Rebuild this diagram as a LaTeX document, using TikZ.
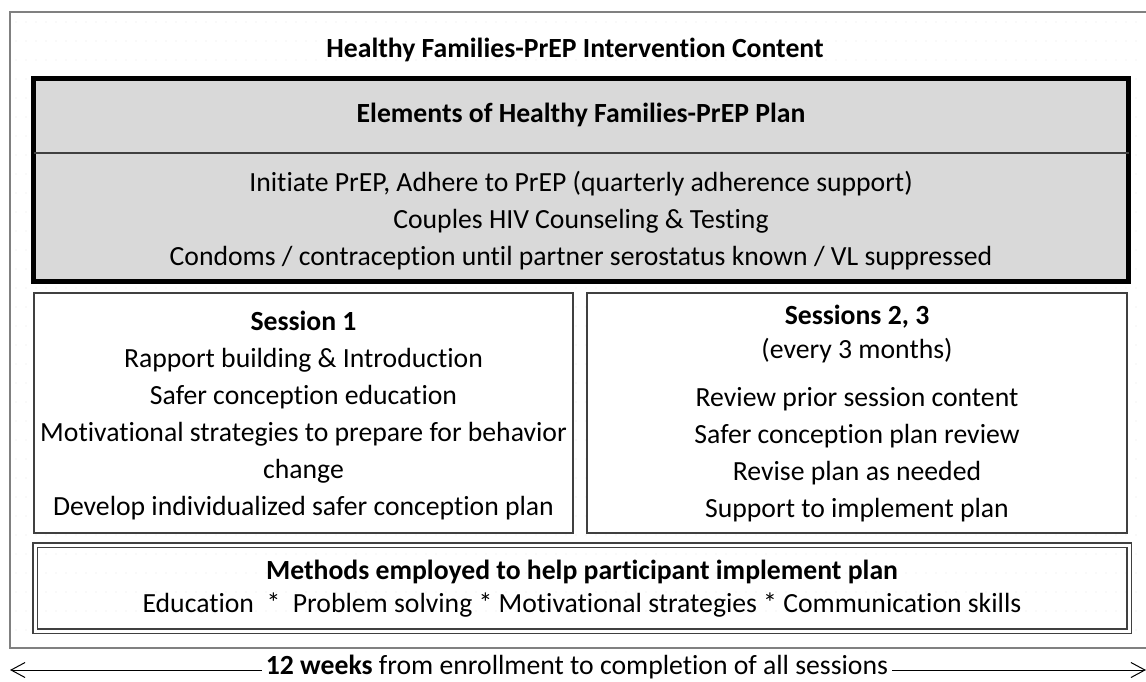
\documentclass[tikz,border=0pt]{standalone}
\usepackage{fontspec}
\setmainfont[Ligatures=NoCommon]{Carlito}
\usetikzlibrary{arrows.meta}
\definecolor{planfill}{HTML}{D9D9D9}
\definecolor{framecol}{HTML}{808080}
\definecolor{boxline}{HTML}{404040}
\tikzset{
  txt/.style={font=\fontsize{27.7}{37}\selectfont, align=center, inner sep=0pt},
  boldtxt/.style={txt, font=\fontsize{27.7}{37}\selectfont\bfseries},
  plainbox/.style={draw=boxline, line width=1.6pt, fill=white, inner sep=0pt, outer sep=0pt},
  planbox/.style={draw=black, line width=5pt, fill=planfill, inner sep=0pt, outer sep=0pt},
  methodbox/.style={draw=boxline, double=white, double distance=3pt, line width=1.4pt, inner sep=0pt, outer sep=0pt},
  timeline/.style={line width=1pt, -{Straight Barb[length=14pt,width=15pt,line width=1pt]}},
}
\begin{document}
\begin{tikzpicture}[x=1pt,y=-1pt]
\useasboundingbox (0,0) rectangle (1146,681);
% faint dotted background
\foreach \yy in {22,41,...,640}
  \draw[black!10, line width=1.3pt, line cap=round, dash pattern=on 0pt off 10pt] (16,\yy) -- (1146,\yy);
% outer frame (open on the right)
\draw[framecol, line width=1.6pt] (1146,12) -- (10,12) -- (10,648) -- (1146,648);
% title
\node[boldtxt] (title) at (575,50) {Healthy Families-PrEP Intervention Content};
% plan box
\node[planbox, anchor=north west, minimum width=1095pt, minimum height=203pt] (plan) at (33.5,78.5) {};
\coordinate (divy) at (0,153);
\draw[boxline, line width=1.6pt] (plan.west |- divy) -- (plan.east |- divy);
\node[boldtxt] (planhead) at (581,115) {Elements of Healthy Families-PrEP Plan};
\node[txt] (planbody) at (581,221) {Initiate PrEP, Adhere to PrEP (quarterly adherence support)\\
Couples HIV Counseling \& Testing\\
Condoms / contraception until partner serostatus known / VL suppressed};
% session boxes
\node[plainbox, anchor=north west, minimum width=539pt, minimum height=240pt] (s1box) at (34,293) {};
\node[txt] (s1) at (s1box.center) [yshift=-3pt] {\textbf{Session 1}\\
Rapport building \& Introduction\\
Safer conception education\\
Motivational strategies to prepare for behavior\\
change\\
Develop individualized safer conception plan};
\node[plainbox, anchor=north west, minimum width=540pt, minimum height=240pt] (s2box) at (587,293) {};
\node[txt] (s2) at (s2box.center) [yshift=-1pt] {\textbf{Sessions 2, 3}\\[-3pt]
(every 3 months)\\[11pt]
Review prior session content\\
Safer conception plan review\\
Revise plan as needed\\
Support to implement plan};
% methods box
\node[methodbox, anchor=north west, minimum width=1094pt, minimum height=86pt] (mbox) at (35,545) {};
\node[txt, font=\fontsize{27.7}{33}\selectfont] (methods) at (mbox.center) [yshift=-1pt] {\textbf{Methods employed to help participant implement plan}\\
Education ~*~ Problem solving * Motivational strategies * Communication skills};
% timeline
\node[txt, inner xsep=4pt] (weeks) at (577,667) {\textbf{12 weeks} from enrollment to completion of all sessions};
\coordinate (tl) at (10,670);
\coordinate (tr) at (1146,670);
\draw[timeline] (weeks.west |- tl) -- (tl);
\draw[timeline] (weeks.east |- tr) -- (tr);
\end{tikzpicture}
\end{document}
